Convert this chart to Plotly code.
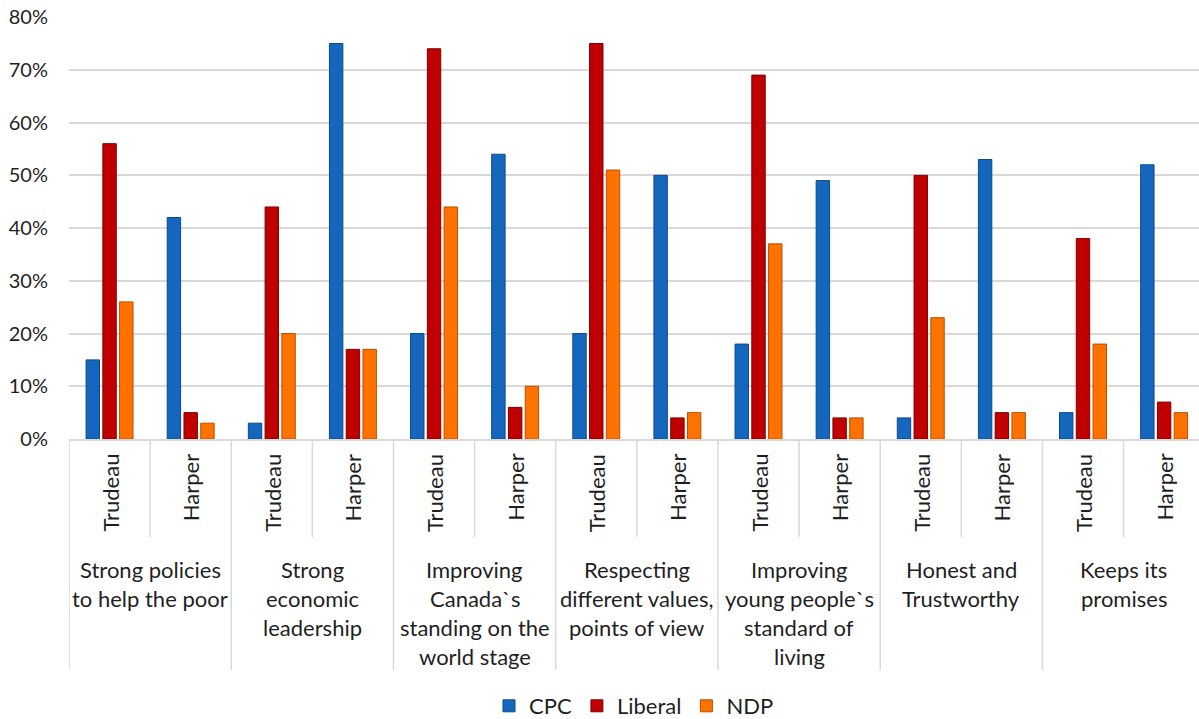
import plotly.graph_objects as go

groups = [
    "Strong policies to help the poor",
    "Strong economic leadership",
    "Improving Canada`s standing on the world stage",
    "Respecting different values, points of view",
    "Improving young people`s standard of living",
    "Honest and Trustworthy",
    "Keeps its promises",
]
group_lines = [
    ["Strong policies", "to help the poor"],
    ["Strong", "economic", "leadership"],
    ["Improving", "Canada`s", "standing on the", "world stage"],
    ["Respecting", "different values,", "points of view"],
    ["Improving", "young people`s", "standard of", "living"],
    ["Honest and", "Trustworthy"],
    ["Keeps its", "promises"],
]
leaders = ["Trudeau", "Harper"]

cpc = [15, 42, 3, 75, 20, 54, 20, 50, 18, 49, 4, 53, 5, 52]
liberal = [56, 5, 44, 17, 74, 6, 75, 4, 69, 4, 50, 5, 38, 7]
ndp = [26, 3, 20, 17, 44, 10, 51, 5, 37, 4, 23, 5, 18, 5]

y_ticks = [0, 10, 20, 30, 40, 50, 60, 70, 80]
y_tick_labels = ["0%", "10%", "20%", "30%", "40%", "50%", "60%", "70%", "80%"]

series = [
    ("CPC", cpc, "#1467bd", "#0b4a8a"),
    ("Liberal", liberal, "#c00000", "#7f0000"),
    ("NDP", ndp, "#ff7200", "#b85000"),
]

cats = [f"{g}|{l}" for g in groups for l in leaders]

FONT = "Lato"
TXT = "#1f1f1f"

fig = go.Figure()
for name, vals, col, edge in series:
    fig.add_trace(go.Bar(
        x=cats, y=vals, name=name,
        marker=dict(color=col, line=dict(color=edge, width=1)),
    ))

W, H = 1199, 719
top_page, bottom_page, left_page = 17, 439, 69
plot_h = bottom_page - top_page

def py(pix):
    return -(pix - bottom_page) / plot_h

shapes = []
annotations = []
n = len(cats)
for i in range(n):
    annotations.append(dict(
        x=i, y=0, xref="x", yref="y", text=leaders[i % 2], showarrow=False,
        textangle=-90, xanchor="center", yanchor="top", yshift=-13,
        font=dict(family=FONT, size=22, color=TXT),
    ))
for i in range(n):
    if i % 2 == 0:
        x0 = i - 0.5
        shapes.append(dict(type="line", xref="x", yref="paper", x0=x0, x1=x0,
                           y0=0, y1=py(670), line=dict(color="#d9d9d9", width=1.5)))
        x1 = i + 0.5
        shapes.append(dict(type="line", xref="x", yref="paper", x0=x1, x1=x1,
                           y0=0, y1=py(537), line=dict(color="#d9d9d9", width=1.5)))

for gi, lines in enumerate(group_lines):
    for k, line in enumerate(lines):
        annotations.append(dict(
            x=2 * gi + 0.5, y=py(569 + 29.3 * k), xref="x", yref="paper",
            text=line, showarrow=False, xanchor="center", yanchor="middle",
            font=dict(family=FONT, size=22, color=TXT),
        ))

fig.update_layout(
    width=W, height=H,
    margin=dict(l=left_page, r=0, t=top_page, b=H - bottom_page, autoexpand=False),
    plot_bgcolor="white", paper_bgcolor="white",
    barmode="group", bargap=0.38, bargroupgap=0.2,
    font=dict(family=FONT, size=20, color=TXT),
    showlegend=True,
    legend=dict(orientation="h", x=0.5, xanchor="center", y=py(706), yanchor="middle",
                font=dict(family=FONT, size=22, color=TXT), itemwidth=30,
                traceorder="normal"),
    shapes=shapes, annotations=annotations,
)
fig.update_xaxes(type="category", range=[-0.5, 13.43], showticklabels=False,
                 showline=True, linecolor="#d9d9d9", linewidth=1.5, showgrid=False,
                 ticks="", automargin=False)
fig.update_yaxes(range=[0, 80.02], tickmode="array", tickvals=y_ticks, ticktext=y_tick_labels,
                 showgrid=True, gridcolor="#d9d9d9", gridwidth=1.5, zeroline=False,
                 showline=False, ticks="", ticklabelstandoff=20, automargin=False,
                 ticklabeloverflow="allow",
                 tickfont=dict(family=FONT, size=20, color=TXT))

fig.write_html("out.html", config={"displayModeBar": False},
               post_script="document.body.style.margin='0';document.body.style.overflow='hidden';")
